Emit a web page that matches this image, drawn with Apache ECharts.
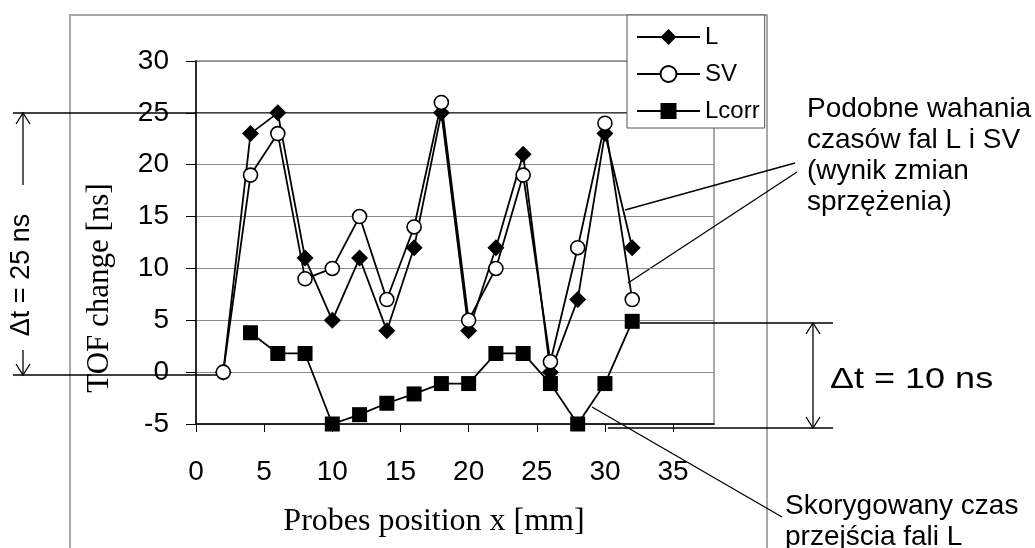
<!DOCTYPE html>
<html>
<head>
<meta charset="utf-8">
<script src="https://cdn.jsdelivr.net/npm/echarts@6/dist/echarts.min.js"></script>
<style>
  html, body { margin: 0; padding: 0; background: #fff; }
  #chart { width: 1035px; height: 548px; }
</style>
</head>
<body>
<div id="chart"></div>
<script>
// Probe positions [mm] and TOF changes [ns].
const positions = [2, 4, 6, 8, 10, 12, 14, 16, 18, 20, 22, 24, 26, 28, 30, 32];
const lValues = [0, 23, 25, 11, 5, 11, 4, 12, 25, 4, 12, 21, 0, 7, 23, 12];
const svValues = [0, 19, 23, 9, 10, 15, 7, 14, 26, 5, 10, 19, 1, 12, 24, 7];
const lcorrValues = [null, 3.8, 1.8, 1.8, -5, -4.1, -3, -2.1, -1.1, -1.1, 1.8, 1.8, -1.1, -5, -1.1, 4.9];
const xTicks = [0, 5, 10, 15, 20, 25, 30, 35];

const SANS = '"Liberation Sans", Arial, sans-serif';
const SERIF = '"Liberation Serif", "Times New Roman", serif';
const GRAY = "#8c8c8c";

const pairs = (ys) => positions.map((x, i) => [x, ys[i]]);

const line = (points, width = 1.3) => ({
  type: "polyline",
  silent: true,
  shape: { points },
  style: { stroke: "#000", lineWidth: width, fill: null },
});
const text = (x, y, str, opts = {}) => ({
  type: "text",
  silent: true,
  x,
  y,
  rotation: opts.rotation || 0,
  scaleX: opts.scaleX || 1,
  style: {
    text: str,
    fill: "#000",
    font: `${opts.size || 28}px ${opts.family || SANS}`,
    lineHeight: opts.lineHeight,
    textAlign: opts.align || "left",
    textVerticalAlign: opts.valign || "middle",
  },
});

const chart = echarts.init(document.getElementById("chart"));

chart.setOption({
  animation: false,
  backgroundColor: "#fff",
  grid: {
    left: 196,
    top: 61,
    width: 518,
    height: 363,
    show: true,
    backgroundColor: "#fff",
    borderColor: GRAY,
    borderWidth: 1.5,
  },
  xAxis: {
    type: "value",
    min: 0,
    max: 38,
    interval: 5,
    axisLine: { onZero: false, lineStyle: { color: "#000", width: 1.5 } },
    axisTick: { customValues: xTicks, length: 8, lineStyle: { color: "#000", width: 1 } },
    axisLabel: { customValues: xTicks, margin: 34, color: "#000", fontSize: 28, fontFamily: SANS },
    splitLine: { show: false },
  },
  yAxis: {
    type: "value",
    min: -5,
    max: 30,
    interval: 5,
    axisLine: { show: true, lineStyle: { color: "#000", width: 1.5 } },
    axisTick: { show: true, length: 10, lineStyle: { color: "#000", width: 1 } },
    axisLabel: { margin: 27, color: "#000", fontSize: 28, fontFamily: SANS },
    splitLine: { lineStyle: { color: GRAY, width: 1.2 } },
  },
  legend: {
    orient: "vertical",
    left: 627,
    top: 15,
    padding: [10, 5, 5, 9],
    itemWidth: 63,
    itemHeight: 20,
    itemGap: 13,
    itemTextGap: 6,
    backgroundColor: "#fff",
    borderColor: "#555",
    borderWidth: 1,
    borderRadius: 0,
    textStyle: { color: "#000", fontSize: 24, fontFamily: SANS, lineHeight: 20 },
    data: ["L", "SV", "Lcorr"],
  },
  series: [
    {
      name: "L",
      type: "line",
      data: pairs(lValues),
      symbol: "diamond",
      symbolSize: 17,
      lineStyle: { color: "#000", width: 1.8 },
      itemStyle: { color: "#000", borderColor: "#000", borderWidth: 0 },
    },
    {
      name: "SV",
      type: "line",
      data: pairs(svValues),
      symbol: "circle",
      symbolSize: 14,
      lineStyle: { color: "#000", width: 1.8 },
      itemStyle: { color: "#fff", borderColor: "#000", borderWidth: 1.6 },
    },
    {
      name: "Lcorr",
      type: "line",
      data: pairs(lcorrValues),
      symbol: "rect",
      symbolSize: 15,
      lineStyle: { color: "#000", width: 1.8 },
      itemStyle: { color: "#000", borderColor: "#000", borderWidth: 0 },
    },
  ],
  graphic: [
    // outer frame of the original figure
    { type: "polyline", silent: true, z: -1, shape: { points: [[70, 548], [70, 15], [767, 15], [767, 548]] }, style: { stroke: GRAY, lineWidth: 1.5, fill: null } },
    // Δt = 25 ns bracket
    line([[13, 113], [627, 113]]),
    line([[13, 375], [221, 375]]),
    line([[23, 113], [23, 185]]),
    line([[23, 350], [23, 375]]),
    line([[16, 124], [23, 113], [30, 124]]),
    line([[16, 364], [23, 375], [30, 364]]),
    text(22, 275, "\u0394t = 25 ns", { size: 27, rotation: Math.PI / 2, align: "center" }),
    // axis titles
    text(100, 288, "TOF change [ns]", { size: 31, family: SERIF, rotation: Math.PI / 2, align: "center" }),
    text(434, 522, "Probes position x [mm]", { size: 32, family: SERIF, align: "center" }),
    // similar L / SV fluctuations
    line([[795, 163], [625, 210]]),
    line([[797, 172], [628, 283]]),
    text(807, 94, "Podobne wahania\nczasów fal L i SV\n(wynik zmian\nsprzężenia)", { size: 28, lineHeight: 31, valign: "top" }),
    // Δt = 10 ns bracket
    line([[640, 323], [833, 323]]),
    line([[608, 428], [833, 428]]),
    line([[813, 323], [813, 428]]),
    line([[806, 334], [813, 323], [820, 334]]),
    line([[806, 417], [813, 428], [820, 417]]),
    text(830, 380, "\u0394t = 10 ns", { size: 30, scaleX: 1.2 }),
    // corrected L wave
    line([[592, 407], [782, 517]]),
    text(785, 491, "Skorygowany czas\nprzejścia fali L", { size: 28, lineHeight: 31, valign: "top" }),
  ],
});
</script>
</body>
</html>
